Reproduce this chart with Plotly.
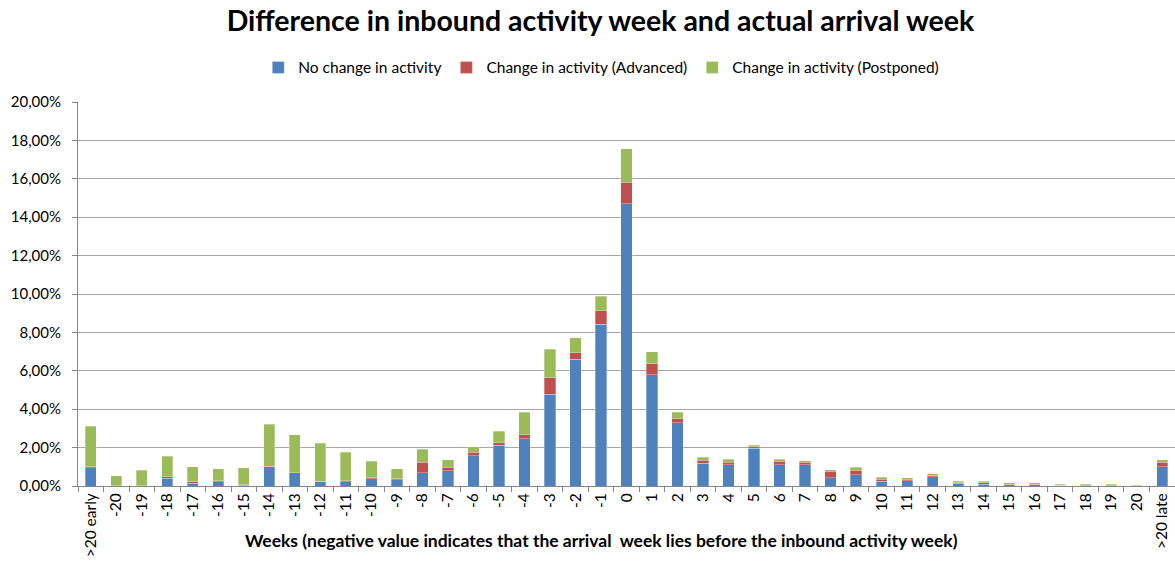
import plotly.graph_objects as go

weeks = [">20 early"] + [str(w) for w in range(-20, 0)] + ["0"] + [str(w) for w in range(1, 21)] + [">20 late"]

# Share of deliveries per week difference (%)
no_change = [0.95, 0.01, 0.01, 0.40, 0.14, 0.21, 0.05, 1.01, 0.68, 0.21, 0.21,
             0.38, 0.33, 0.70, 0.80, 1.57, 2.12, 2.47, 4.78, 6.59, 8.42,
             14.71,
             5.79, 3.29, 1.18, 1.11, 1.96, 1.11, 1.11, 0.43, 0.59, 0.24,
             0.28, 0.47, 0.14, 0.09, 0.07, 0.07, 0.03, 0.03, 0.03, 0.00,
             1.01]
advanced = [0.05, 0.00, 0.00, 0.07, 0.09, 0.07, 0.01, 0.02, 0.02, 0.03, 0.07,
            0.05, 0.05, 0.54, 0.17, 0.20, 0.12, 0.19, 0.85, 0.35, 0.71,
            1.10,
            0.57, 0.21, 0.17, 0.14, 0.09, 0.19, 0.14, 0.35, 0.24, 0.12,
            0.07, 0.07, 0.02, 0.07, 0.03, 0.03, 0.01, 0.03, 0.03, 0.02,
            0.22]
postponed = [2.10, 0.53, 0.81, 1.08, 0.78, 0.61, 0.88, 2.19, 1.98, 1.99, 1.48,
             0.87, 0.52, 0.67, 0.40, 0.28, 0.61, 1.18, 1.50, 0.78, 0.75,
             1.75,
             0.62, 0.33, 0.16, 0.14, 0.08, 0.09, 0.07, 0.07, 0.14, 0.09,
             0.08, 0.10, 0.08, 0.08, 0.07, 0.07, 0.05, 0.06, 0.06, 0.01,
             0.13]

series = [
    ("No change in activity", no_change, "#4F81BD"),
    ("Change in activity (Advanced)", advanced, "#C0504D"),
    ("Change in activity (Postponed)", postponed, "#9BBB59"),
]

fig = go.Figure()
for name, vals, color in series:
    fig.add_trace(go.Bar(
        x=weeks, y=vals, name=name,
        marker=dict(color=color, line=dict(color="rgba(255,255,255,0.6)", width=0.5)),
    ))

font_family = "Lato, Open Sans, sans-serif"

fig.update_layout(
    barmode="stack",
    bargap=0.56,
    width=1175, height=562,
    margin=dict(l=78, r=0, t=102, b=76),
    paper_bgcolor="white",
    plot_bgcolor="white",
    separators=",.",
    font=dict(family=font_family, color="#000000", size=15),
    title=dict(
        text="<b>Difference in inbound activity week and actual arrival week</b>",
        x=0.511, xanchor="center", y=0.962, yanchor="middle",
        font=dict(size=28.5, family=font_family),
    ),
    legend=dict(
        orientation="h", x=0.477, xanchor="center", y=1.089, yanchor="middle",
        font=dict(size=15.5), itemwidth=30, traceorder="normal",
    ),
    xaxis=dict(
        type="category",
        tickangle=-90,
        ticks="outside", tickson="boundaries", ticklen=5, tickcolor="#868686",
        showline=True, linecolor="#868686",
        tickfont=dict(size=15.5),
    ),
    yaxis=dict(
        range=[0, 20], dtick=2,
        tickformat=".2f", ticksuffix="%",
        showgrid=True, gridcolor="#A6A6A6", gridwidth=1,
        ticks="outside", ticklen=5, tickcolor="#868686",
        ticklabelstandoff=8,
        showline=True, linecolor="#868686",
        zeroline=False,
        tickfont=dict(size=15),
    ),
    annotations=[dict(
        text="<b>Weeks (negative value indicates that the arrival  week lies before the inbound activity week)</b>",
        xref="paper", yref="paper", x=0.477, y=-0.143,
        xanchor="center", yanchor="middle", showarrow=False,
        font=dict(size=17.5, family=font_family),
    )],
)

fig.write_html("out.html")
